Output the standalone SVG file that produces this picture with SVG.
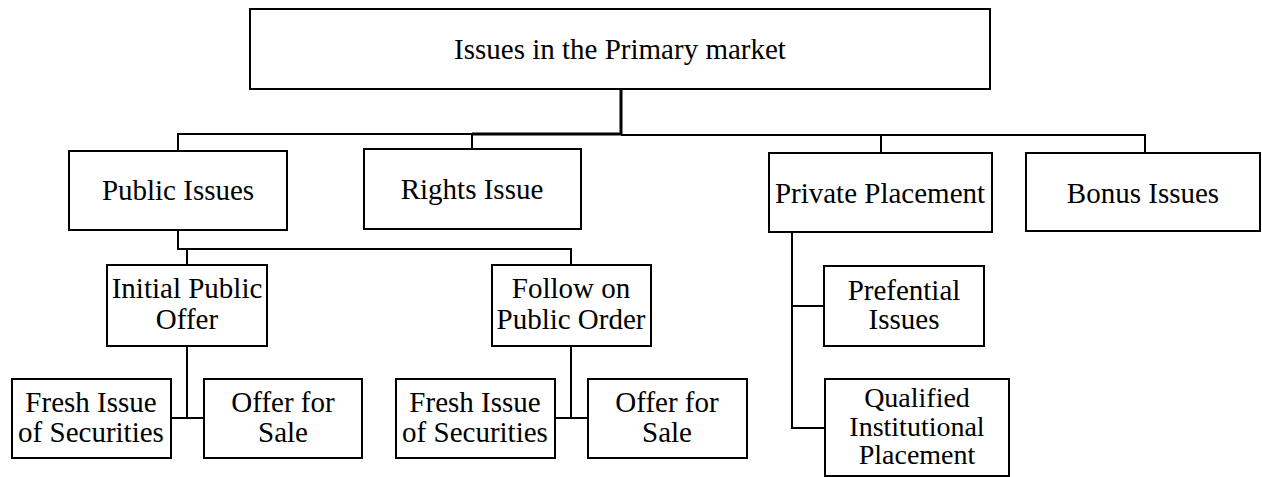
<svg xmlns="http://www.w3.org/2000/svg" width="1262" height="477" viewBox="0 0 1262 477">
<style>
.box{fill:#fff;stroke:#000;stroke-width:2}
.t{font-family:"Liberation Serif","Times New Roman",serif;font-size:29px;fill:#000;text-anchor:middle}
.s{font-size:28px}
.c{fill:none;stroke:#000;stroke-width:2}
</style>
<rect width="1262" height="477" fill="#fff"/>
<g id="connectors">
<path class="c" d="M621,89 V135 M178,151 V134 H621 M472,149 V134 M621,135 H1145 V153 M881,135 V153"/>
<path class="c" style="stroke-width:3" d="M472,134 H621 M621,89 V135"/>
<path class="c" d="M178,230 V249 H571 V265 M187,249 V265"/>
<path class="c" d="M187,346 V418 M171,418 H204"/>
<path class="c" d="M571,346 V418 M555,418 H588"/>
<path class="c" d="M792,232 V428 H825 M792,306 H824"/>
</g>
<g id="root"><rect class="box" x="250" y="9" width="740" height="80"/><text class="t" x="620" y="59">Issues in the Primary market</text></g>
<g id="public"><rect class="box" x="69" y="151" width="218" height="79"/><text class="t" x="178" y="200">Public Issues</text></g>
<g id="rights"><rect class="box" x="364" y="149" width="217" height="80"/><text class="t" x="472" y="199">Rights Issue</text></g>
<g id="private"><rect class="box" x="769" y="153" width="223" height="79"/><text class="t" x="880" y="203">Private Placement</text></g>
<g id="bonus"><rect class="box" x="1026" y="153" width="234" height="78"/><text class="t" x="1143" y="203">Bonus Issues</text></g>
<g id="ipo"><rect class="box" x="107" y="265" width="160" height="81"/><text class="t" x="187" y="298">Initial Public</text><text class="t" x="187" y="329">Offer</text></g>
<g id="fpo"><rect class="box" x="492" y="265" width="159" height="81"/><text class="t" x="571" y="298">Follow on</text><text class="t" x="571" y="329">Public Order</text></g>
<g id="fresh1"><rect class="box" x="12" y="379" width="159" height="79"/><text class="t" x="91" y="412">Fresh Issue</text><text class="t" x="91" y="442">of Securities</text></g>
<g id="ofs1"><rect class="box" x="204" y="379" width="158" height="79"/><text class="t" x="283" y="412">Offer for</text><text class="t" x="283" y="442">Sale</text></g>
<g id="fresh2"><rect class="box" x="396" y="379" width="159" height="79"/><text class="t" x="475" y="412">Fresh Issue</text><text class="t" x="475" y="442">of Securities</text></g>
<g id="ofs2"><rect class="box" x="588" y="379" width="159" height="79"/><text class="t" x="667" y="412">Offer for</text><text class="t" x="667" y="442">Sale</text></g>
<g id="pref"><rect class="box" x="824" y="266" width="160" height="80"/><text class="t" x="904" y="300">Prefential</text><text class="t" x="904" y="329">Issues</text></g>
<g id="qip"><rect class="box" x="825" y="379" width="184" height="97"/><text class="t s" x="917" y="407">Qualified</text><text class="t s" x="917" y="436">Institutional</text><text class="t s" x="917" y="464">Placement</text></g>
</svg>
